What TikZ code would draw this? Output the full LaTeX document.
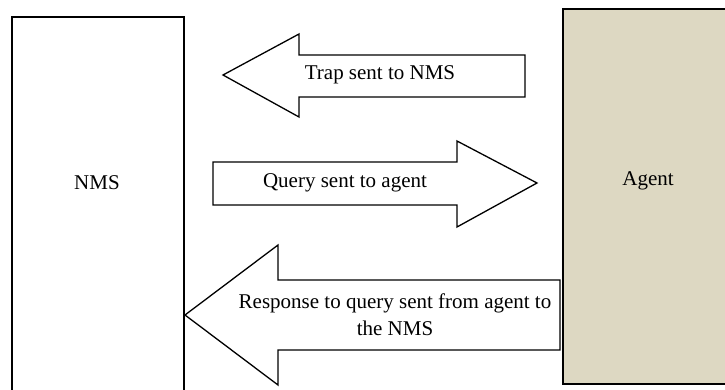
\documentclass[tikz,border=0pt]{standalone}
\usepackage{fontspec}
\setmainfont{Liberation Serif}
\usetikzlibrary{positioning}
\definecolor{agentfill}{RGB}{221,216,194}

\begin{document}
\begin{tikzpicture}[
    x=1pt, y=-1pt,
    entity/.style={draw=black, line width=1.3pt},
    blockarrow/.style={draw=black, fill=white, line width=1.3pt, line join=miter},
    msglabel/.style={font=\fontsize{21}{27}\selectfont, align=center, inner sep=0pt}
]
\useasboundingbox (0,0) rectangle (725,390);
\clip (0,0) rectangle (725,390);

% the two ends
\draw[entity] (12,17) rectangle (184,400);
\draw[entity, fill=agentfill] (563,9) rectangle (740,384);
\node (nms) [msglabel] at (97,183) {NMS};
\node (agent) [msglabel] at (648,181) {Agent};

% trap: agent to NMS
\draw[blockarrow] (223,75) -- (299,34) -- (299,55) -- (525,55) -- (525,97)
    -- (299,97) -- (299,117) -- cycle;
\node (trap) [msglabel] at (380,75) {Trap sent to NMS};

% query: NMS to agent
\draw[blockarrow] (213,162) -- (457,162) -- (457,141) -- (537,183) -- (457,227)
    -- (457,205) -- (213,205) -- cycle;
\node (query) [msglabel] at (345,183) {Query sent to agent};

% response: agent to NMS
\draw[blockarrow] (185,315) -- (278,245) -- (278,280) -- (560,280) -- (560,350)
    -- (278,350) -- (278,385) -- cycle;
\node (resp) [msglabel] at (395,315) {Response to query sent from agent to\\the NMS};

\end{tikzpicture}
\end{document}
